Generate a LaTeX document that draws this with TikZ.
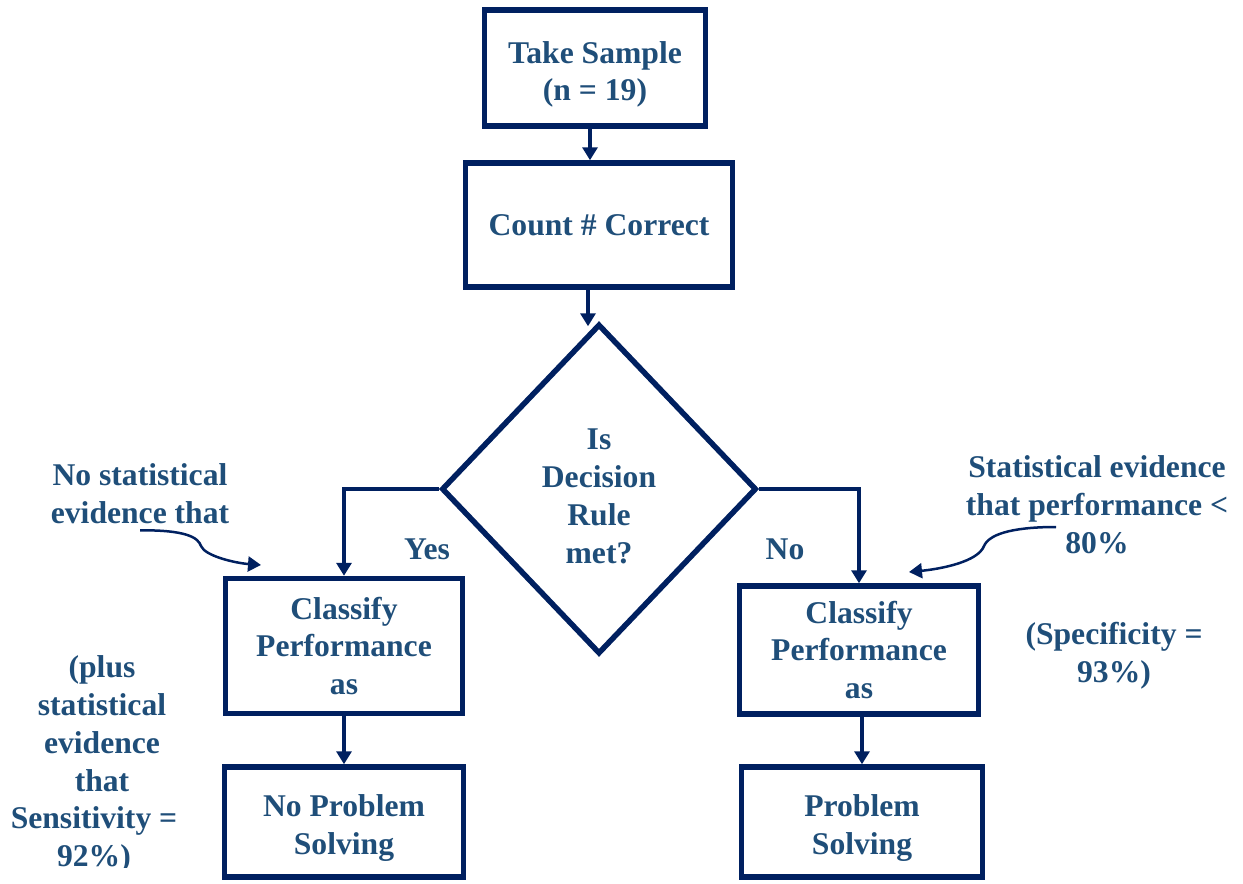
\documentclass[tikz,border=0pt]{standalone}
\usepackage{fontspec}
\setmainfont{Liberation Serif}
\usetikzlibrary{shapes.geometric, arrows.meta}
\definecolor{flownavy}{HTML}{002060}
\definecolor{flowtext}{HTML}{1F4E79}
\newcommand{\lowerstrut}{\rule{0pt}{1.1em}}

\begin{document}
\begin{tikzpicture}[x=0.02cm,y=-0.02cm,>={Triangle[length=0.26cm,width=0.3cm]}]
			
			\tikzstyle{every node}=[font=\fontsize{18}{21.6}\selectfont\bfseries,text=flowtext,align=center]
			
			\tikzstyle{flow box}=[rectangle,draw=flownavy,line width=0.11cm,inner sep=0pt]
			\tikzstyle{decide}=[diamond,draw=flownavy,line width=0.11cm,inner sep=0pt,minimum width=6.3cm,minimum height=6.6cm]
			\tikzstyle{flow}=[->,draw=flownavy,line width=0.07cm]
			\tikzstyle{remark}=[->,draw=flownavy,line width=0.05cm]
			
			\useasboundingbox (0,0) rectangle (1243,884);
			
			\node[flow box,minimum width=4.42cm,minimum height=2.32cm] (sample) at (595,68) {\lowerstrut Take Sample\\(n = 19)};
			\node[flow box,minimum width=5.34cm,minimum height=2.48cm] (count) at (599,225) {Count \# Correct};
			\node[decide] (dec) at (599,489) {\lowerstrut Is\\Decision\\Rule\\met?};
			\node[flow box,minimum width=4.74cm,minimum height=2.7cm] (lclass) at (344,646) {Classify\\Performance\\as};
			\node[flow box,minimum width=4.78cm,minimum height=2.56cm] (rclass) at (859,650) {Classify\\Performance\\as};
			\node[flow box,minimum width=4.78cm,minimum height=2.2cm] (lend) at (344,822) {\lowerstrut No Problem\\Solving};
			\node[flow box,minimum width=4.82cm,minimum height=2.2cm] (rend) at (862,822) {\lowerstrut Problem\\Solving};
			
			\node (yes) at (427,549) {Yes};
			\node (no) at (785,549) {No};
			
			\node (lnote) at (140,494) {No statistical\\evidence that};
			\node (rnote) at (1097,505) {Statistical evidence\\that performance <\\80\%};
			\node (spec) at (1114,656) {(Specificity =\\93\%)};
			\node (sensa) at (102,724) {(plus\\statistical\\evidence\\that};
			\begin{scope}
				\clip (0,760) rectangle (230,867);
				\node (sensb) at (94,840) {Sensitivity =\\92\%)};
			\end{scope}
			
			\coordinate (ltip) at (261,565);
			\coordinate (rstart) at (1056,527);
			\coordinate (rtip) at (909,572);
			
			% main flow
			\draw[flow] ([xshift=-0.1cm]sample.south) -- ([xshift=-0.1cm]sample.south |- count.north);
			\draw[flow] ([xshift=-0.22cm]count.south) -- ([xshift=-0.22cm,yshift=-0.1cm]count.south |- dec.north);
			\draw[flow] (dec.west) -| (lclass.north);
			\draw[flow] (dec.east) -| (rclass.north);
			\draw[flow] (lclass) -- (lend);
			\draw[flow] (rclass.south -| rend.north) -- (rend.north);
			
			% notes
			\draw[remark] (lnote.south) .. controls (185,530) and (198,537) .. (201,546) .. controls (205,556) and (235,563) .. (ltip);
			\draw[remark] (rstart) .. controls (1020,527) and (990,532) .. (984,546) .. controls (978,562) and (940,569) .. (rtip);
			
		\end{tikzpicture}
\end{document}
